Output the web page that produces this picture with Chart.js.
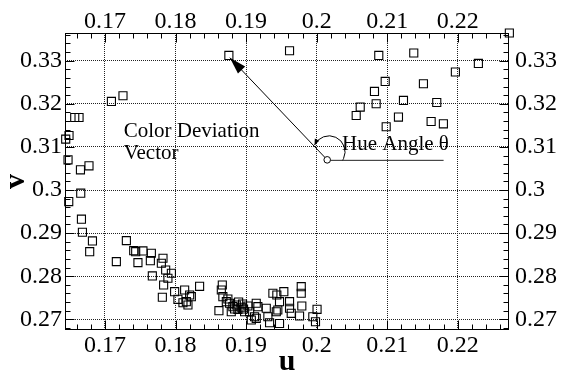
<!DOCTYPE html>
<html><head><meta charset="utf-8">
<script src="https://cdn.jsdelivr.net/npm/chart.js@4.4.1/dist/chart.umd.min.js"></script>
<style>html,body{margin:0;padding:0;background:#fff}</style>
</head><body>
<canvas id="c" width="568" height="372" style="width:568px;height:372px;display:block"></canvas>
<script>
// ---- data (u, v chromaticity) ----
const uValues = [
  0.17091,0.17255,0.16571,0.16632,0.16490,0.16443,0.16476,0.16652,0.16773,0.16656,0.16486,
  0.16666,0.16680,0.16822,0.16783,0.17161,0.17303,0.17407,0.17435,0.17538,0.17467,0.17657,0.17643,
  0.17822,0.17799,0.17860,0.17941,0.17892,0.17671,0.17831,0.17813,0.17987,0.18034,0.18105,0.18176,
  0.18129,0.18200,0.18153,0.18224,0.18341,0.18663,0.18649,0.18671,0.18720,0.18615,0.18766,0.18813,
  0.18861,0.18884,0.18932,0.18790,0.18979,0.19026,0.19050,0.19144,0.19120,0.19074,0.19167,0.19144,
  0.19286,0.19309,0.19333,0.19380,0.19436,0.19535,0.19474,0.19450,0.19474,0.19428,0.19616,0.19616,
  0.19640,0.19782,0.19782,0.19790,0.19758,0.19946,0.19984,0.20006,0.18894,0.18950,0.18837,0.18964,0.18742,
  0.18756,0.19616,
  0.20881,0.21377,0.22293,0.21967,0.22732,0.20972,0.21514,0.20820,0.21231,0.20844,0.21703,0.20618,
  0.20561,0.21160,0.21623,0.21797,0.20986
];
const vValues = [
  0.32055,0.32187,0.31683,0.31683,0.31265,0.31181,0.30700,0.30468,0.30561,0.29927,0.29732,
  0.29323,0.29021,0.28819,0.28570,0.28338,0.28826,0.28593,0.28570,0.28587,0.28315,0.28533,0.28361,
  0.28417,0.28301,0.28145,0.28069,0.27952,0.28006,0.27797,0.27511,0.27641,0.27464,0.27385,0.27332,
  0.27681,0.27564,0.27409,0.27525,0.27766,0.27797,0.27681,0.27525,0.27409,0.27200,0.27372,0.27293,
  0.27332,0.27232,0.27279,0.27176,0.27176,0.27309,0.27176,0.27372,0.27060,0.26984,0.27293,0.27023,
  0.27256,0.27060,0.26921,0.27604,0.27564,0.27641,0.27409,0.27216,0.26902,0.27176,0.27409,0.27256,
  0.27139,0.27757,0.27604,0.27309,0.27077,0.27060,0.26944,0.27232,0.27402,0.27356,0.27240,0.27240,0.27472,
  0.33123,0.33232,
  0.33123,0.33179,0.32937,0.32738,0.33643,0.32519,0.32466,0.32287,0.32078,0.32001,0.32031,0.31924,
  0.31729,0.31692,0.31590,0.31536,0.31467
];
const xTickLabels = [0.17, 0.18, 0.19, 0.20, 0.21, 0.22];
const yTickLabels = [0.27, 0.28, 0.29, 0.30, 0.31, 0.32, 0.33];
const xMinorTicks = [0.166,0.168,0.172,0.174,0.176,0.178,0.182,0.184,0.186,0.188,0.192,0.194,0.196,0.198,
                     0.202,0.204,0.206,0.208,0.212,0.214,0.216,0.218,0.222,0.224,0.226];
const yMinorTicks = [0.268,0.272,0.274,0.276,0.278,0.282,0.284,0.286,0.288,0.292,0.294,0.296,0.298,
                     0.302,0.304,0.306,0.308,0.312,0.314,0.316,0.318,0.322,0.324,0.326,0.328,0.332,0.334,0.336];
const xRange = [0.16433, 0.22727];
const yRange = [0.26752, 0.33643];
const xTitle = 'u';
const yTitle = 'v';
// annotation anchors (data units)
const arrowFrom = [0.2015, 0.3070];
const arrowTo = [0.1877, 0.3307];
const baseLineEnd = [0.2180, 0.3071];
const arcCenter = [0.20176, 0.30886];
const noteDeviation = ['Color Deviation', 'Vector'];
const noteDeviationAt = [0.17265, 0.31362];
const noteHue = 'Hue Angle θ';
const noteHueAt = [0.2036, 0.3105];

const FONT = "'Liberation Serif', 'DejaVu Serif', serif";
const fmt = v => String(+Number(v).toFixed(2));

const deco = {
  id: 'deco',
  afterDatasetsDraw(chart) {
    const ctx = chart.ctx, a = chart.chartArea;
    const X = chart.scales.x, Y = chart.scales.y;
    const px = v => X.getPixelForValue(v), py = v => Y.getPixelForValue(v);
    ctx.save();
    ctx.strokeStyle = '#000'; ctx.lineWidth = 1;
    // frame
    const L = Math.round(a.left) + 0.5, R = Math.round(a.right) - 0.5;
    const T = Math.round(a.top) + 0.5, B = Math.round(a.bottom) - 0.5;
    ctx.strokeRect(L, T, R - L, B - T);
    // ticks (inward)
    ctx.beginPath();
    const tickX = (v, len) => { const p = Math.round(px(v)) + 0.5;
      ctx.moveTo(p, T); ctx.lineTo(p, T + len); ctx.moveTo(p, B); ctx.lineTo(p, B - len); };
    const tickY = (v, len) => { const p = Math.round(py(v)) + 0.5;
      ctx.moveTo(L, p); ctx.lineTo(L + len, p); ctx.moveTo(R, p); ctx.lineTo(R - len, p); };
    xTickLabels.forEach(v => tickX(v, 9)); xMinorTicks.forEach(v => tickX(v, 5));
    yTickLabels.forEach(v => tickY(v, 9)); yMinorTicks.forEach(v => tickY(v, 5));
    ctx.stroke();
    // arrow
    const x0 = px(arrowFrom[0]), y0 = py(arrowFrom[1]);
    const x1 = px(arrowTo[0]), y1 = py(arrowTo[1]);
    ctx.beginPath(); ctx.moveTo(x0, y0); ctx.lineTo(x1, y1); ctx.stroke();
    const ang = Math.atan2(y1 - y0, x1 - x0);
    const hl = 17, hw = 5;
    ctx.fillStyle = '#000';
    ctx.beginPath();
    ctx.moveTo(x1, y1);
    ctx.lineTo(x1 - hl * Math.cos(ang) + hw * Math.sin(ang), y1 - hl * Math.sin(ang) - hw * Math.cos(ang));
    ctx.lineTo(x1 - hl * Math.cos(ang) - hw * Math.sin(ang), y1 - hl * Math.sin(ang) + hw * Math.cos(ang));
    ctx.closePath(); ctx.fill();
    // centre circle
    ctx.fillStyle = '#fff';
    ctx.beginPath(); ctx.arc(x0, y0, 3.3, 0, Math.PI * 2); ctx.fill(); ctx.stroke();
    // base line
    ctx.strokeStyle = '#222';
    ctx.beginPath(); ctx.moveTo(x0 + 3.3, y0 + 0.5); ctx.lineTo(px(baseLineEnd[0]), y0 + 0.5); ctx.stroke();
    // angle arc
    ctx.strokeStyle = '#000';
    const cx = px(arcCenter[0]), cy = py(arcCenter[1]);
    const a0 = -155 * Math.PI / 180, a1 = 32 * Math.PI / 180, r = 16;
    ctx.beginPath(); ctx.arc(cx, cy, r, a0, a1, false); ctx.stroke();
    // small arrow head at arc start
    const sx = cx + r * Math.cos(a0), sy = cy + r * Math.sin(a0);
    const tang = a0 - Math.PI / 2;
    ctx.fillStyle = '#000';
    ctx.beginPath();
    ctx.moveTo(sx, sy);
    ctx.lineTo(sx - 6 * Math.cos(tang) + 2.5 * Math.sin(tang), sy - 6 * Math.sin(tang) - 2.5 * Math.cos(tang));
    ctx.lineTo(sx - 6 * Math.cos(tang) - 2.5 * Math.sin(tang), sy - 6 * Math.sin(tang) + 2.5 * Math.cos(tang));
    ctx.closePath(); ctx.fill();
    // notes
    ctx.fillStyle = '#000';
    ctx.font = '21px ' + FONT;
    ctx.textBaseline = 'middle'; ctx.textAlign = 'left';
    const nx = px(noteDeviationAt[0]), ny = py(noteDeviationAt[1]);
    noteDeviation.forEach((t, i) => ctx.fillText(t, nx, ny + i * 22));
    ctx.fillText(noteHue, px(noteHueAt[0]), py(noteHueAt[1]));
    ctx.restore();
  }
};

const tickFont = { family: FONT, size: 24 };
const fixTicks = arr => s => { s.ticks = arr.map(v => ({ value: v })); };

new Chart(document.getElementById('c'), {
  type: 'scatter',
  data: { datasets: [{
    data: uValues.map((u, i) => ({ x: u, y: vValues[i] })),
    pointStyle: 'rect', pointRadius: 5.7, pointHoverRadius: 5.7,
    borderColor: '#000', backgroundColor: 'rgba(0,0,0,0)', borderWidth: 1.1,
    clip: false
  }]},
  options: {
    responsive: false, animation: false, devicePixelRatio: 1,
    layout: { padding: 0 },
    plugins: { legend: { display: false }, tooltip: { enabled: false } },
    scales: {
      x: { type: 'linear', position: 'bottom', min: xRange[0], max: xRange[1],
        afterBuildTicks: fixTicks(xTickLabels),
        afterFit: s => { s.height = 42; },
        grid: { color: '#222', lineWidth: 1, drawTicks: false },
        border: { display: false, dash: [1, 1] },
        ticks: { font: tickFont, color: '#000', padding: 1, maxRotation: 0, callback: fmt },
        title: { display: true, text: xTitle, color: '#000', padding: 0,
          font: { family: FONT, size: 30, weight: 'bold', lineHeight: 0.64 } } },
      x2: { type: 'linear', position: 'top', min: xRange[0], max: xRange[1],
        afterBuildTicks: fixTicks(xTickLabels),
        afterFit: s => { s.height = 33; },
        grid: { display: false, drawTicks: false }, border: { display: false },
        ticks: { font: tickFont, color: '#000', padding: -3, maxRotation: 0, callback: fmt } },
      y: { type: 'linear', position: 'left', min: yRange[0], max: yRange[1],
        afterBuildTicks: fixTicks(yTickLabels),
        afterFit: s => { s.width = 65; },
        grid: { color: '#222', lineWidth: 1, drawTicks: false },
        border: { display: false, dash: [1, 1] },
        ticks: { font: tickFont, color: '#000', padding: 3, callback: fmt },
        title: { display: true, text: yTitle, color: '#000', padding: 1,
          font: { family: FONT, size: 30, weight: 'bold', lineHeight: 1 } } },
      y2: { type: 'linear', position: 'right', min: yRange[0], max: yRange[1],
        afterBuildTicks: fixTicks(yTickLabels),
        afterFit: s => { s.width = 59; },
        grid: { display: false, drawTicks: false }, border: { display: false },
        ticks: { font: tickFont, color: '#000', padding: 6, callback: fmt } }
    }
  },
  plugins: [deco]
});
</script>
</body></html>
